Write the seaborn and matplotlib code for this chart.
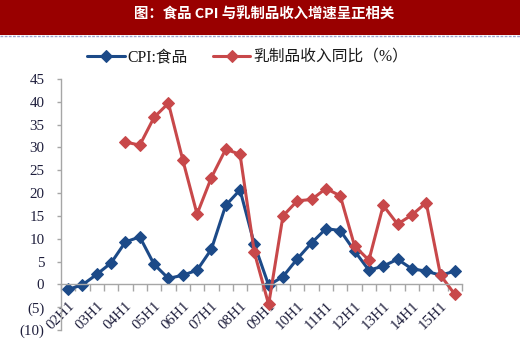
import numpy as np
import pandas as pd
import matplotlib
matplotlib.use("Agg")
import matplotlib.pyplot as plt
from matplotlib.ticker import FixedLocator, FuncFormatter
from matplotlib.patches import Rectangle
from matplotlib.lines import Line2D
import seaborn as sns

# Half-year periods
periods = ["02H1", "02H2", "03H1", "03H2", "04H1", "04H2", "05H1", "05H2",
           "06H1", "06H2", "07H1", "07H2", "08H1", "08H2", "09H1", "09H2",
           "10H1", "10H2", "11H1", "11H2", "12H1", "12H2", "13H1", "13H2",
           "14H1", "14H2", "15H1", "15H2"]
tick_labels = ["02H1", "03H1", "04H1", "05H1", "06H1", "07H1", "08H1",
               "09H1", "10H1", "11H1", "12H1", "13H1", "14H1", "15H1"]

# Food CPI (%)
cpi_food = [-1.1, -0.1, 2.2, 4.7, 9.3, 10.4, 4.4, 1.3, 2.0, 3.1, 7.7, 17.3,
            20.7, 8.8, -0.2, 1.7, 5.6, 9.1, 12.2, 11.8, 7.3, 3.1, 4.0, 5.5,
            3.4, 2.9, 2.0, 2.9]
# Dairy revenue YoY growth (%)
dairy_growth = [np.nan, np.nan, np.nan, np.nan, 31.2, 30.5, 36.6, 39.7,
                27.3, 15.4, 23.4, 29.6, 28.5, 7.0, -4.4, 15.0, 18.3, 18.6,
                21.0, 19.4, 8.4, 5.3, 17.3, 13.2, 15.2, 17.9, 2.0, -2.2]

title = "图：食品 CPI 与乳制品收入增速呈正相关"
name_cpi = "CPI:食品"
name_dairy = "乳制品收入同比（%）"

sns.set_theme(style="white")
plt.rcParams["font.family"] = ["Liberation Serif", "Noto Sans CJK SC", "DejaVu Sans"]

BLUE = "#1C4A88"
RED = "#C8484A"
AXIS = "#A6A6A6"
TXT = "#1E1E3C"

df = pd.DataFrame({"idx": np.arange(len(periods)), "period": periods,
                   "cpi": cpi_food, "dairy": dairy_growth})

W, H = 520, 346
fig = plt.figure(figsize=(W / 100, H / 100), dpi=100)
fig.patch.set_facecolor("white")

# Header banner
fig.patches.append(Rectangle((0, 1 - 35 / H), 1, 35 / H, transform=fig.transFigure,
                             facecolor="#990000", edgecolor="none", zorder=0))
fig.lines.append(Line2D([0, 1], [1 - 35.5 / H, 1 - 35.5 / H], transform=fig.transFigure,
                        color="#9CA3CC", lw=1.0, ls=(0, (2, 1))))
fig.text(0.507, 1 - 15 / H, title, color="white", fontsize=10.4, fontweight="bold",
         family=["Noto Sans CJK SC", "DejaVu Sans"], ha="center", va="center")

ax = fig.add_axes([61 / W, 1 - 330 / H, (462 - 61) / W, (330 - 79) / H])

sns.lineplot(data=df, x="idx", y="cpi", ax=ax, color=BLUE, lw=2.2, marker="D",
             markersize=5.8, markeredgecolor=BLUE, label=name_cpi)
sns.lineplot(data=df, x="idx", y="dairy", ax=ax, color=RED, lw=2.2, marker="D",
             markersize=5.8, markeredgecolor=RED, label=name_dairy)

ax.set_xlim(-0.5, len(periods) - 0.5)
ax.set_ylim(-10, 45)
ax.set_xlabel("")
ax.set_ylabel("")

# Axes styling: category axis sits at zero
for s in ("top", "right"):
    ax.spines[s].set_visible(False)
ax.spines["left"].set_color(AXIS)
ax.spines["bottom"].set_color(AXIS)
ax.spines["left"].set_linewidth(1.0)
ax.spines["bottom"].set_linewidth(1.0)
ax.spines["bottom"].set_position(("data", 0))

ax.set_yticks(np.arange(-10, 46, 5))
ax.yaxis.set_major_formatter(FuncFormatter(
    lambda v, p: f"({abs(int(v))})" if v < 0 else f"{int(v)}"))
ax.tick_params(axis="y", direction="out", length=3, width=1, color=AXIS,
               pad=9, labelsize=10.8, labelcolor=TXT, left=True)

label_pos = [periods.index(t) for t in tick_labels]
ax.xaxis.set_major_locator(FixedLocator(label_pos))
ax.set_xticklabels(tick_labels)
ax.xaxis.set_minor_locator(FixedLocator(np.arange(-0.5, len(periods), 1.0)))
ax.tick_params(axis="x", which="major", length=0, pad=11, labelsize=10.8,
               labelcolor=TXT, bottom=True)
ax.tick_params(axis="x", which="minor", direction="out", length=5, width=1,
               color=AXIS, bottom=True)
for lab in ax.get_xticklabels():
    lab.set_rotation(45)
    lab.set_ha("right")
    lab.set_va("top")
    lab.set_rotation_mode("anchor")

ax.grid(False)
ax.set_facecolor("white")

ax.legend(loc="center", bbox_to_anchor=(0.476, 1 - 57 / H), bbox_transform=fig.transFigure,
          ncol=2, frameon=False, handlelength=2.4, handletextpad=0.15,
          columnspacing=1.6, fontsize=11.3, labelcolor="#1A1A1A")

fig.savefig("out.png", dpi=100)
